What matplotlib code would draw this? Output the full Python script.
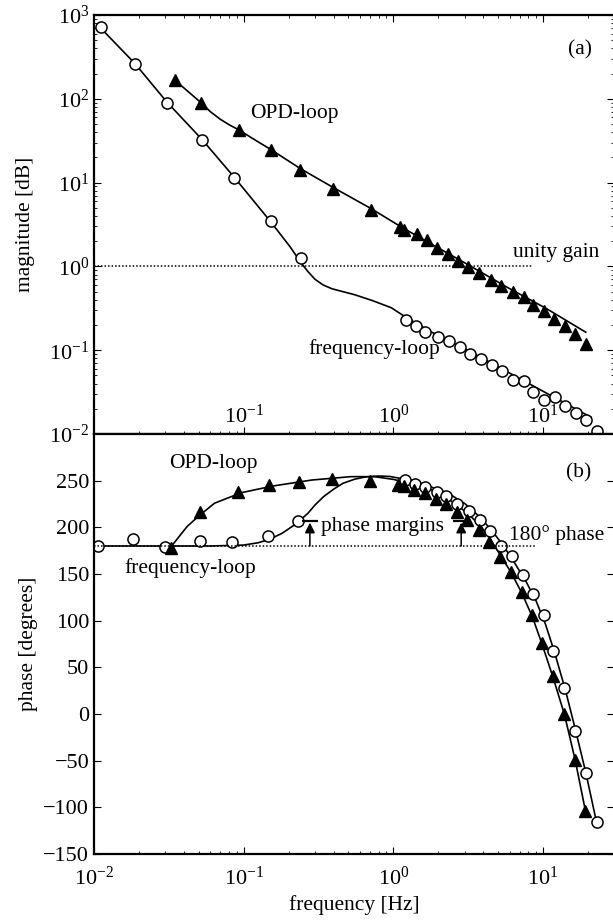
import matplotlib.pyplot as plt
import numpy as np

plt.rcParams['font.family'] = ['Liberation Serif', 'DejaVu Serif']
plt.rcParams['mathtext.fontset'] = 'stix'
plt.rcParams['font.size'] = 15.5

# --- magnitude panel (a) ---
freq_mag_f = [0.0111, 0.01875, 0.0306, 0.0527, 0.0861, 0.152, 0.242,
              1.21, 1.42, 1.64, 1.99, 2.34, 2.77, 3.27, 3.84, 4.54, 5.33,
              6.31, 7.41, 8.61, 10.1, 11.97, 14.1, 16.6, 19.5, 23.1]
freq_mag = [713, 259, 89.6, 32.1, 11.2, 3.49, 1.26,
            0.2265, 0.192, 0.167, 0.143, 0.128, 0.109, 0.0904, 0.0787, 0.0674, 0.0571,
            0.0442, 0.0433, 0.0315, 0.0255, 0.0274, 0.0218, 0.0177, 0.0147, 0.0108]
freq_fit_f = [0.0106, 0.01875, 0.0306, 0.0527, 0.0861, 0.152, 0.205, 0.242, 0.27,
              0.30, 0.34, 0.39, 0.46, 0.55, 0.719, 0.97, 1.21, 1.77, 3.21, 5.84,
              10.6, 21.0]
freq_fit_mag = [759, 264, 92, 32.7, 11.7, 3.39, 1.70, 1.10, 0.86,
                0.70, 0.60, 0.54, 0.50, 0.46, 0.393, 0.321, 0.248, 0.167, 0.0973, 0.0546,
                0.0306, 0.0158]

opd_mag_f = [0.0347, 0.0518, 0.093, 0.152, 0.239, 0.398, 0.711, 1.107, 1.175,
             1.43, 1.68, 1.97, 2.31, 2.69, 3.16, 3.73, 4.46, 5.27, 6.31, 7.41,
             8.61, 10.1, 11.8, 14.1, 16.4, 19.5]
opd_mag = [167, 89.6, 42.2, 24.3, 14.3, 8.47, 4.75, 2.95, 2.74,
           2.41, 2.05, 1.67, 1.39, 1.16, 0.982, 0.832, 0.693, 0.582, 0.493, 0.430,
           0.351, 0.292, 0.237, 0.192, 0.157, 0.119]
opd_fit_f = [0.0347, 0.0430, 0.0518, 0.0600, 0.0698, 0.080, 0.093, 0.12, 0.152,
             0.239, 0.398, 0.711, 1.16, 3.21, 5.84, 10.6, 19.3]
opd_fit_mag = [167, 120, 90, 70, 57, 49, 42.5, 32, 24.8,
               14.7, 8.71, 4.89, 2.87, 1.03, 0.556, 0.312, 0.164]

# --- phase panel (b) ---
freq_ph_f = [0.0107, 0.0181, 0.0296, 0.0508, 0.084, 0.146, 0.232,
             1.205, 1.40, 1.63, 1.95, 2.26, 2.67, 3.20, 3.81, 4.45, 5.23,
             6.19, 7.36, 8.55, 10.2, 11.7, 13.9, 16.4, 19.3, 22.8]
freq_ph = [180.2, 188.0, 178.8, 185.5, 184.8, 190.2, 207.3,
           250.7, 246.4, 242.9, 238.2, 233.6, 225.1, 218.0, 208.0, 196.2, 180.2,
           169.5, 149.2, 128.6, 105.8, 67.3, 27.8, -18.1, -63.4, -116.1]
freq_ph_fit_f = [0.01, 0.06, 0.1, 0.125, 0.148, 0.18, 0.211, 0.24, 0.269, 0.30,
                 0.342, 0.40, 0.461, 0.55, 0.65, 0.8, 0.948, 1.28, 1.7, 2.33,
                 3.0, 3.76, 4.5, 5.40, 6.4, 7.73, 9.0, 10.4, 11.9, 14.1,
                 16.6, 19.4, 22.8]
freq_ph_fit = [180, 180, 181, 183.5, 187, 193.5, 200.9, 208, 215.1, 224,
               232.9, 241, 247.2, 251.5, 254, 255, 254.5, 250.7, 244.5, 236.5,
               225.5, 211.5, 197.5, 181, 163, 141.5, 121, 96, 67, 26,
               -19, -64, -116.1]

opd_ph_f = [0.0326, 0.0508, 0.0914, 0.148, 0.233, 0.388, 0.694, 1.07, 1.17,
            1.37, 1.63, 1.92, 2.26, 2.66, 3.10, 3.72, 4.38, 5.14, 6.08, 7.19,
            8.46, 9.82, 11.6, 13.9, 16.4, 19.2]
opd_ph = [177.7, 216.9, 238.2, 245.4, 248.9, 251.4, 250.0, 245.4, 244.3,
          240.0, 237.2, 230.1, 224.7, 216.9, 208.0, 197.3, 184.8, 168.1, 151.7, 130.3,
          106.5, 76.2, 40.6, -0.3, -49.1, -103.6]
opd_ph_fit_f = [0.0326, 0.037, 0.0419, 0.05, 0.0638, 0.08, 0.097, 0.157, 0.286,
                0.52, 0.745, 1.0, 1.73, 2.5, 3.14, 3.9, 4.5, 5.2, 6.1, 7.2,
                8.5, 9.8, 11.6, 13.9, 16.4, 19.2]
opd_ph_fit = [178.8, 190, 200.9, 212, 225.8, 232, 237.2, 244.3, 250.7,
              254.3, 254.3, 251.4, 241.8, 227, 215, 200, 186, 170, 152, 130,
              104, 76, 40.6, -0.3, -49.1, -103.6]

unity_f = [0.01, 8.6]
unity_mag = [1, 1]
phase180_f = [0.01, 9.0]
phase180 = [180, 180]
margin_f = [0.277, 2.84]
margin_top = [207, 207]

fig = plt.figure(figsize=(6.13, 9.22), dpi=100)
L = 94 / 613
W = (614.4 - 94) / 613
ax1 = fig.add_axes([L, 1 - 434 / 922, W, (434 - 15) / 922])
ax2 = fig.add_axes([L, 1 - 854 / 922, W, (854 - 434) / 922])

mk = dict(color='k', lw=1.2)
circ = dict(marker='o', ms=8, mfc='white', mec='k', mew=1.1, ls='none')
tri = dict(marker='^', ms=8, mfc='k', mec='k', ls='none')
dots = dict(color='k', lw=1.1, ls=(0, (1, 1.3)))

# panel (a)
ax1.plot(freq_fit_f, freq_fit_mag, **mk)
ax1.plot(opd_fit_f, opd_fit_mag, **mk)
ax1.plot(freq_mag_f, freq_mag, **circ)
ax1.plot(opd_mag_f, opd_mag, **tri)
ax1.plot(unity_f, unity_mag, **dots)
ax1.set_xscale('log')
ax1.set_yscale('log')
ax1.set_xlim(0.01, 30)
ax1.set_ylim(1e-2, 1e3)
ax1.set_xticks([0.1, 1, 10])
ax1.set_ylabel('magnitude [dB]', labelpad=10)
ax1.text(6.3, 1.12, 'unity gain', ha='left', va='bottom')
ax1.text(0.11, 66.8, 'OPD-loop', ha='left', va='center')
ax1.text(0.27, 0.104, 'frequency-loop', ha='left', va='center')
ax1.text(17.7, 380, '(a)', ha='center', va='center')
ax1.tick_params(axis='both', which='both', direction='in', top=True, right=True,
                labelsize=16)
ax1.tick_params(axis='x', which='both', pad=-21)
ax1.tick_params(which='major', length=5)
ax1.tick_params(which='minor', length=2.5)

# panel (b)
ax2.plot(freq_ph_fit_f, freq_ph_fit, **mk)
ax2.plot(opd_ph_fit_f, opd_ph_fit, **mk)
ax2.plot(freq_ph_f, freq_ph, **circ)
ax2.plot(opd_ph_f, opd_ph, **tri)
ax2.plot(phase180_f, phase180, **dots)
for f, top in zip(margin_f, margin_top):
    ax2.annotate('', xy=(f, top - 2), xytext=(f, 180),
                 arrowprops=dict(arrowstyle='-|>', color='k', lw=1.1,
                                 mutation_scale=15, shrinkA=0, shrinkB=0))
    ax2.plot([f], [top], marker='_', ms=12, mew=1.6, color='k')
ax2.set_xscale('log')
ax2.set_xlim(0.01, 30)
ax2.set_ylim(-150, 300)
ax2.set_yticks(np.arange(-150, 251, 50))
ax2.set_xticks([0.01, 0.1, 1, 10])
ax2.set_xlabel('frequency [Hz]', labelpad=4)
ax2.set_ylabel('phase [degrees]', labelpad=4)
ax2.text(0.33, 200.9, 'phase margins', ha='left', va='center')
ax2.text(5.9, 192, '180° phase', ha='left', va='center')
ax2.text(0.032, 268, 'OPD-loop', ha='left', va='center')
ax2.text(0.016, 156.4, 'frequency-loop', ha='left', va='center')
ax2.text(17.4, 258, '(b)', ha='center', va='center')
ax2.tick_params(axis='both', which='both', direction='in', right=True,
                labelsize=16)
ax2.tick_params(axis='x', which='both', pad=9)
ax2.tick_params(which='major', length=5)
ax2.tick_params(which='minor', length=2.5)

for ax in (ax1, ax2):
    for s in ax.spines.values():
        s.set_linewidth(1.6)

fig.savefig('out.png', dpi=100)
